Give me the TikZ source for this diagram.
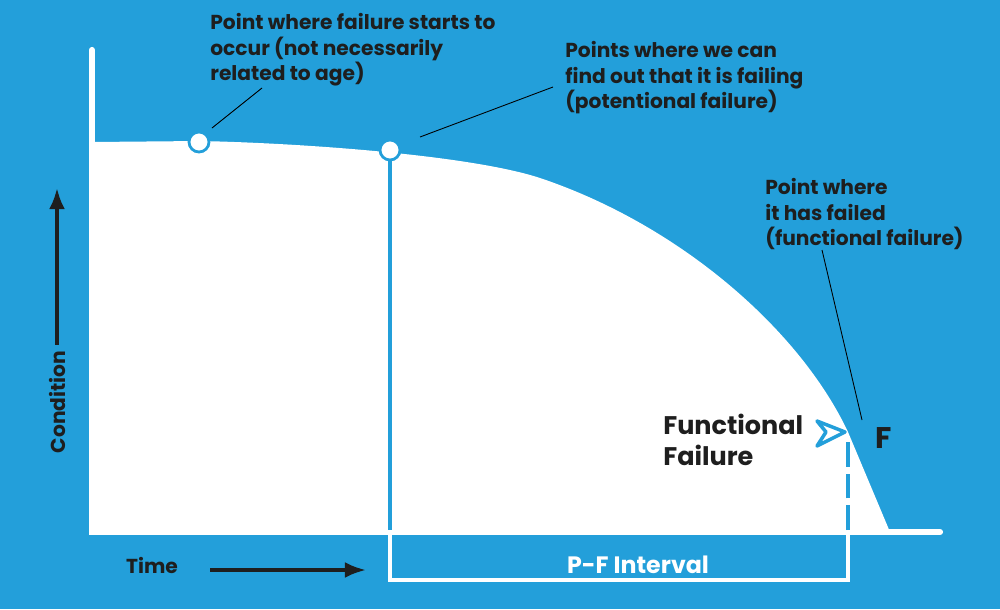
\documentclass[tikz,border=0pt]{standalone}
\usepackage{fontspec}
\setmainfont{Poppins}
\usetikzlibrary{positioning,arrows.meta}
\definecolor{pfblue}{HTML}{239FDA}
\definecolor{pfink}{HTML}{1E1E1E}
\tikzset{
  note/.style={align=left,anchor=north west,text=pfink,font=\fontsize{11.5}{14.5}\selectfont\bfseries,inner sep=0pt},
  leader/.style={draw=black,line width=0.5pt},
  pfpoint/.style={circle,draw=pfblue,fill=white,line width=1.6pt,minimum size=0.4cm,inner sep=0pt}
}
\begin{document}
\begin{tikzpicture}[x=0.02cm,y=-0.02cm]
            \fill[pfblue] (0,0) rectangle (1000,609);
            \useasboundingbox (0,0) rectangle (1000,609);
            % white area under the curve
            \fill[white] (92,532) -- (92,142) -- (200,141) .. controls (300,143) and (470,155) .. (540,178)
                .. controls (680,225) and (800,330) .. (848,432) -- (890,532) -- cycle;
            \draw[white,line width=3.5pt,line cap=round] (92,50) -- (92,532) -- (940,532);
            % P-F interval
            \draw[pfblue,line width=2pt] (390,160) -- (390,530);
            \draw[white,line width=2pt] (390,534) -- (390,580) -- (848,580) -- (848,534);
            \draw[pfblue,line width=2.5pt,dash pattern=on 14pt off 4pt] (848,530) -- (848,440);
            \draw[white,line width=2.5pt,dash pattern=on 14pt off 4pt] (848,534) -- (848,580);
            \node[pfpoint] (start) at (199,142) {};
            \node[pfpoint] (pot) at (390,150) {};
            \coordinate (fail) at (848,432);
            % arrowhead at functional failure
            \draw[pfblue,line width=2pt,fill=white,line join=round] (845,432) -- (817,421) -- (826,432) -- (817,446) -- cycle;
            % texts
            \node[note] (t1) at (210,13) {Point where failure starts to\\occur (not necessarily\\related to age)};
            \node[note] (t2) at (565,41) {Points where we can\\find out that it is failing\\(potentional failure)};
            \node[note] (t3) at (765,178) {Point where\\it has failed\\(functional failure)};
            \node[note,font=\fontsize{14.5}{17.5}\selectfont\bfseries] (ff) at (663,414) {Functional\\Failure};
            \node[text=pfink,font=\fontsize{17}{20}\selectfont\bfseries] (F) at (884,438) {F};
            \node[text=white,font=\fontsize{13.5}{16}\selectfont\bfseries] (pf) at (638,565) {P-F Interval};
            \node[text=pfink,font=\fontsize{11.5}{14}\selectfont\bfseries] (time) at (152,565) {Time};
            \node[text=pfink,font=\fontsize{11.5}{14}\selectfont\bfseries,rotate=90] (cond) at (57,402) {Condition};
            % leaders
            \draw[leader] (212,128) -- (262,88);
            \draw[leader] (420,137) -- (553,87);
            \draw[leader] (822,250) -- (862,420);
            % axis arrows
            \draw[pfink,line width=2pt,-{Latex[length=12pt,width=9pt]}] (cond.east) -- (57,188);
            \draw[pfink,line width=2pt,-{Latex[length=12pt,width=9pt]}] (210,570) -- (366,570);
        \end{tikzpicture}
\end{document}
